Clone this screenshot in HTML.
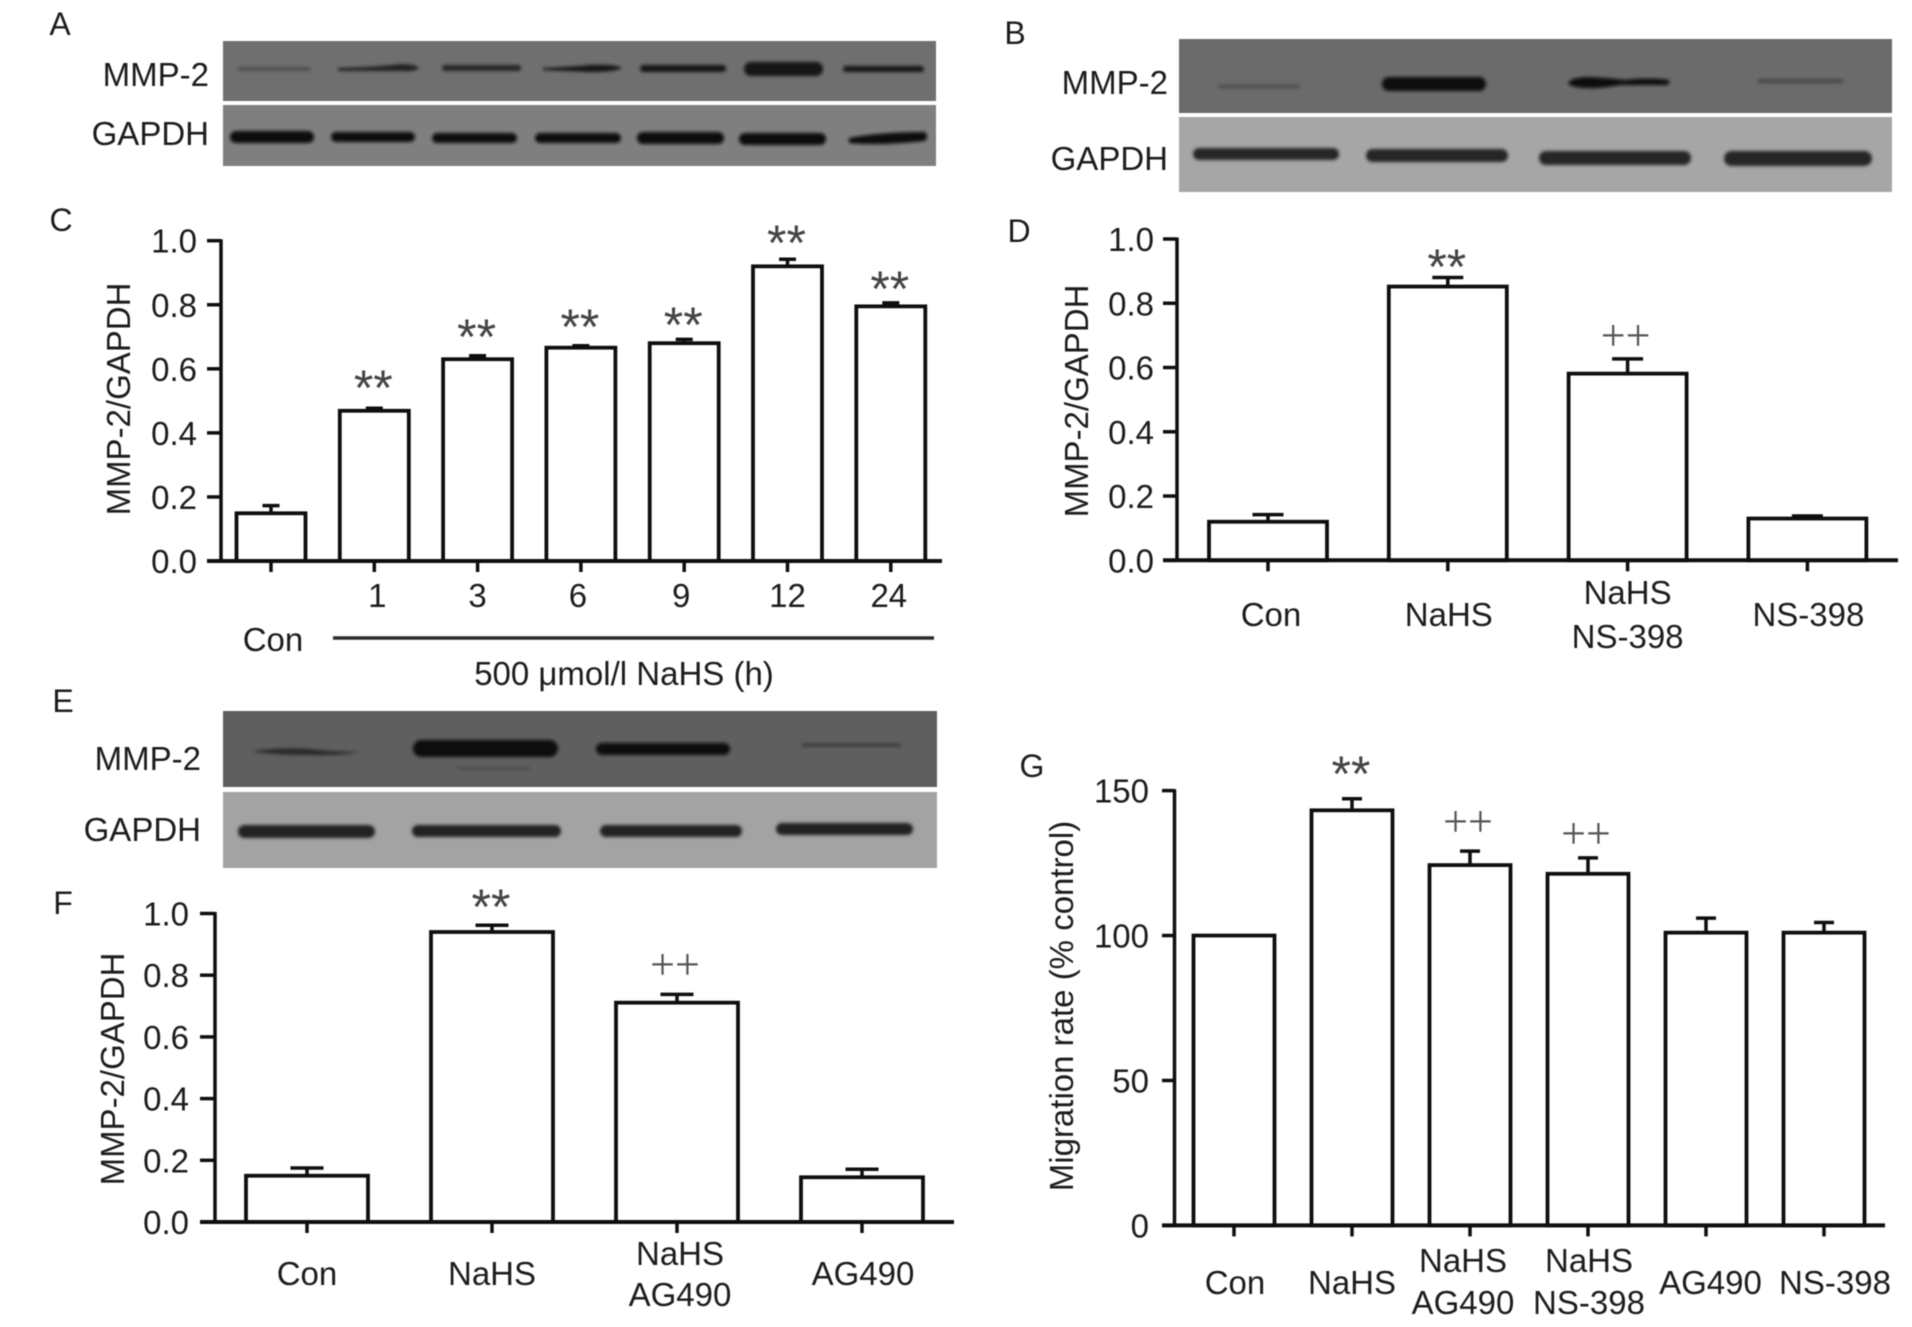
<!DOCTYPE html>
<html lang="en">
<head>
<meta charset="utf-8">
<title>MMP-2 expression and migration rate figure</title>
<style>
  html, body { margin: 0; padding: 0; background: #fff; }
  #figure { display: block; width: 1912px; height: 1327px; filter: blur(0.5px); }
  text { font-family: "Liberation Sans", sans-serif; fill: #1c1c1c; }
</style>
</head>
<body>
<svg id="figure" xmlns="http://www.w3.org/2000/svg" width="1912" height="1327" viewBox="0 0 1912 1327">
  <defs>
    <filter id="soft" x="-20%" y="-100%" width="140%" height="300%"><feGaussianBlur stdDeviation="1.6"/></filter>
  </defs>
  <rect width="1912" height="1327" fill="#fff"/>

  <!-- Panel letters -->
  <g font-size="32" text-anchor="middle">
    <text x="60" y="35">A</text>
    <text x="1015" y="44">B</text>
    <text x="61" y="231">C</text>
    <text x="1019" y="242">D</text>
    <text x="63" y="712">E</text>
    <text x="63" y="914">F</text>
    <text x="1032" y="777">G</text>
  </g>

  <!-- Blot A -->
  <g>
    <rect x="223" y="41" width="713" height="60" fill="#6f6f6f"/>
    <rect x="223" y="105" width="713" height="61" fill="#7f7f7f"/>
    <g filter="url(#soft)" fill="#161616">
      <rect x="238" y="67" width="73" height="4" rx="2" fill="#505050"/>
      <path d="M338 68 Q380 67 400 64 Q415 64 419 68 Q415 72 400 71 Q370 71 338 71 Z" fill="#202020"/>
      <rect x="442" y="65" width="79" height="6" rx="3" fill="#262626"/>
      <path d="M543 68 Q570 67 590 65 Q615 64 622 68 Q615 72 590 72 Q565 71 543 70 Z"/>
      <rect x="640" y="65" width="86" height="7" rx="3.5"/>
      <rect x="744" y="62" width="79" height="14" rx="7"/>
      <rect x="843" y="66" width="81" height="6" rx="3"/>
    </g>
    <g filter="url(#soft)" fill="#111">
      <rect x="230" y="131" width="84" height="12" rx="6"/>
      <rect x="331" y="132" width="84" height="10" rx="5"/>
      <rect x="432" y="133" width="85" height="10" rx="5"/>
      <rect x="535" y="133" width="86" height="10" rx="5"/>
      <rect x="637" y="132" width="87" height="12" rx="6"/>
      <rect x="739" y="133" width="87" height="12" rx="6"/>
      <path d="M849 138 Q880 132 925 132 Q929 137 925 141 Q880 146 849 143 Z"/>
    </g>
  </g>
  <g font-size="33" text-anchor="end">
    <text x="209" y="86">MMP-2</text>
    <text x="209" y="145">GAPDH</text>
  </g>

  <!-- Blot B -->
  <g>
    <rect x="1179" y="39" width="713" height="74" fill="#6b6b6b"/>
    <rect x="1179" y="117" width="713" height="75" fill="#a6a6a6"/>
    <g filter="url(#soft)" fill="#0c0c0c">
      <rect x="1218" y="84" width="82" height="5" rx="2.5" fill="#555"/>
      <rect x="1382" y="77" width="104" height="14" rx="7"/>
      <path d="M1568 83 Q1572 77 1590 77 Q1610 78 1625 80 Q1650 77 1668 80 Q1672 83 1666 85 Q1640 85 1620 85 Q1600 89 1585 88 Q1570 87 1568 83 Z"/>
      <rect x="1758" y="79" width="85" height="4" rx="2" fill="#474747"/>
    </g>
    <g filter="url(#soft)" fill="#262626">
      <rect x="1193" y="148" width="146" height="12" rx="6"/>
      <rect x="1366" y="149" width="142" height="13" rx="6.5"/>
      <rect x="1539" y="151" width="152" height="14" rx="7"/>
      <rect x="1724" y="151" width="148" height="15" rx="7.5"/>
    </g>
  </g>
  <g font-size="33" text-anchor="end">
    <text x="1168" y="94">MMP-2</text>
    <text x="1168" y="170">GAPDH</text>
  </g>

  <!-- Blot E -->
  <g>
    <rect x="223" y="711" width="714" height="76" fill="#5f5f5f"/>
    <rect x="223" y="792" width="714" height="76" fill="#a3a3a3"/>
    <g filter="url(#soft)" fill="#0c0c0c">
      <path d="M252 751 Q290 746 320 750 Q345 752 360 752 Q340 756 310 755 Q270 755 252 751 Z" fill="#2a2a2a"/>
      <rect x="413" y="740" width="145" height="17" rx="8.5"/>
      <rect x="596" y="743" width="134" height="12" rx="6"/>
      <rect x="802" y="743" width="99" height="4" rx="2" fill="#3f3f3f"/>
      <rect x="457" y="767" width="73" height="3" rx="1.5" fill="#4d4d4d"/>
    </g>
    <g filter="url(#soft)" fill="#232323">
      <rect x="238" y="825" width="137" height="13" rx="6.5"/>
      <rect x="412" y="825" width="149" height="12" rx="6"/>
      <rect x="600" y="825" width="142" height="12" rx="6"/>
      <rect x="776" y="823" width="137" height="12" rx="6"/>
    </g>
  </g>
  <g font-size="33" text-anchor="end">
    <text x="201" y="770">MMP-2</text>
    <text x="201" y="841">GAPDH</text>
  </g>

  <!-- Panel C extras -->
  <g>
    <text x="273" y="651" font-size="33" text-anchor="middle">Con</text>
    <line x1="333" y1="638" x2="934" y2="638" stroke="#2c2c2c" stroke-width="3.4"/>
    <text x="624" y="685" font-size="33" text-anchor="middle">500 μmol/l NaHS (h)</text>
  </g>

  <g id="chart-c"></g>
  <g id="chart-d"></g>
  <g id="chart-f"></g>
  <g id="chart-g"></g>
</svg>

<script>
// Panel C data
const cCategories = ["", "1", "3", "6", "9", "12", "24"];
const cValues = [0.149, 0.469, 0.630, 0.666, 0.680, 0.920, 0.795];
const cErrors = [0.024, 0.008, 0.011, 0.006, 0.012, 0.022, 0.011];
const cMarks = ["", "**", "**", "**", "**", "**", "**"];
const cMarkLevels = [0, 0.565, 0.724, 0.755, 0.762, 1.018, 0.874];
const cTicks = [0, 0.2, 0.4, 0.6, 0.8, 1.0];
const cTickLabels = ["0.0", "0.2", "0.4", "0.6", "0.8", "1.0"];

// Panel D data
const dCategories = ["Con", "NaHS", "NaHS|NS-398", "NS-398"];
const dValues = [0.120, 0.852, 0.581, 0.130];
const dErrors = [0.022, 0.028, 0.046, 0.008];
const dMarks = ["", "**", "++", ""];
const dMarkLevels = [0, 0.938, 0.698, 0];
const dTicks = [0, 0.2, 0.4, 0.6, 0.8, 1.0];
const dTickLabels = ["0.0", "0.2", "0.4", "0.6", "0.8", "1.0"];

// Panel F data
const fCategories = ["Con", "NaHS", "NaHS|AG490", "AG490"];
const fValues = [0.150, 0.940, 0.711, 0.145];
const fErrors = [0.025, 0.022, 0.027, 0.026];
const fMarks = ["", "**", "++", ""];
const fMarkLevels = [0, 1.047, 0.833, 0];
const fTicks = [0, 0.2, 0.4, 0.6, 0.8, 1.0];
const fTickLabels = ["0.0", "0.2", "0.4", "0.6", "0.8", "1.0"];

// Panel G data
const gCategories = ["Con", "NaHS", "NaHS|AG490", "NaHS|NS-398", "AG490", "NS-398"];
const gValues = [100, 143.2, 124.3, 121.3, 101, 101];
const gErrors = [0, 4, 4.8, 5.5, 5, 3.5];
const gMarks = ["", "**", "++", "++", "", ""];
const gMarkLevels = [0, 158.5, 139.2, 135, 0, 0];
const gTicks = [0, 50, 100, 150];
const gTickLabels = ["0", "50", "100", "150"];

const SVG_NS = "http://www.w3.org/2000/svg";
const INK = "#0e0e0e";

function drawChart(panel, layout, categories, values, errors, marks, markLevels, ticks, tickLabels) {
  const root = document.getElementById("chart-" + panel);
  const yScale = v => layout.y0 - (v - layout.yMin) / (layout.yMax - layout.yMin) * (layout.y0 - layout.y1);
  const xScale = i => layout.xFirst + i * layout.xStep;

  function line(x1, y1, x2, y2) {
    const el = document.createElementNS(SVG_NS, "line");
    el.setAttribute("x1", x1);
    el.setAttribute("y1", y1);
    el.setAttribute("x2", x2);
    el.setAttribute("y2", y2);
    el.setAttribute("stroke", INK);
    el.setAttribute("stroke-width", 3.5);
    root.appendChild(el);
    return el;
  }
  function label(x, y, str, size, anchor) {
    const el = document.createElementNS(SVG_NS, "text");
    el.setAttribute("x", x);
    el.setAttribute("y", y);
    el.setAttribute("font-size", size);
    el.setAttribute("text-anchor", anchor);
    el.textContent = str;
    root.appendChild(el);
    return el;
  }

  // Bars and error bars
  values.forEach((v, i) => {
    const cx = xScale(i);
    const top = yScale(v);
    const errTop = yScale(v + errors[i]);
    if (errors[i] > 0) {
      const stem = line(cx, top, cx, errTop);
      
      
      const cap = line(cx - layout.capW / 2, errTop, cx + layout.capW / 2, errTop);
      
      
    }
    const bar = document.createElementNS(SVG_NS, "rect");
    bar.setAttribute("x", cx - layout.barW / 2);
    bar.setAttribute("y", top);
    bar.setAttribute("width", layout.barW);
    bar.setAttribute("height", yScale(layout.yMin) - top);
    bar.setAttribute("fill", "#fff");
    bar.setAttribute("stroke", INK);
    bar.setAttribute("stroke-width", 3.8);
    
    
    root.appendChild(bar);

    const tick = line(cx, layout.y0, cx, layout.y0 + 11);
    
    

    // Category label (a "|" splits it on two lines)
    const parts = categories[i].split("|");
    const lx = cx + (layout.labelNudge ? layout.labelNudge[i] : 0);
    if (parts.length === 1 && parts[0] !== "") {
      const t = label(lx, layout.catY + 12, parts[0], 33, "middle");
      
      
    } else if (parts.length === 2) {
      const t1 = label(lx, layout.catY1 + 12, parts[0], 33, "middle");
      
      
      const t2 = label(lx, layout.catY2 + 12, parts[1], 33, "middle");
      
      
    }

    // Significance marks
    if (marks[i] === "**") {
      const m = label(cx - 1, yScale(markLevels[i]) + 25, "**", 50, "middle");
      m.style.fill = "#444";
      
      
    } else if (marks[i] === "++") {
      const m = label(cx - 2, yScale(markLevels[i]) + 14, "++", 44, "middle");
      m.style.fontFamily = '"Liberation Serif", serif';
      m.style.fill = "#555";
      
      
    }
  });

  // Axes
  const yAxis = line(layout.axisX, layout.y1 - 1.5, layout.axisX, layout.y0);
  
  
  const xAxis = line(layout.tickLeft, layout.y0, layout.xEnd, layout.y0);
  xAxis.setAttribute("stroke-width", 4);
  
  

  ticks.forEach((t, i) => {
    const yT = yScale(t);
    const tk = line(layout.tickLeft, yT, layout.axisX, yT);
    
    
    const lb = label(layout.tickLeft - layout.labelGap, yT + 12, tickLabels[i], 33, "end");
    
    
  });

  // Y axis title
  const title = document.createElementNS(SVG_NS, "text");
  title.setAttribute("transform", "translate(" + (layout.titleX + 12) + "," + layout.titleY + ") rotate(-90)");
  title.setAttribute("font-size", 33);
  title.setAttribute("text-anchor", "middle");
  title.textContent = layout.title;
  
  
  root.appendChild(title);
}

drawChart("c", {
  y0: 561, y1: 240.7, yMin: 0, yMax: 1, axisX: 221, tickLeft: 207, xEnd: 942, labelGap: 10,
  xFirst: 271, xStep: 103.3, barW: 69, capW: 17, catY: 595,
  labelNudge: [0, 3, 0, -3, -3, 0, -2],
  titleX: 118, titleY: 399, title: "MMP-2/GAPDH"
}, cCategories, cValues, cErrors, cMarks, cMarkLevels, cTicks, cTickLabels);

drawChart("d", {
  y0: 560.3, y1: 239, yMin: 0, yMax: 1, axisX: 1177, tickLeft: 1163, xEnd: 1898, labelGap: 9,
  xFirst: 1268, xStep: 179.8, barW: 118, capW: 31, catY: 614, catY1: 592, catY2: 636,
  labelNudge: [3, 1, 0, 1],
  titleX: 1076, titleY: 401, title: "MMP-2/GAPDH"
}, dCategories, dValues, dErrors, dMarks, dMarkLevels, dTicks, dTickLabels);

drawChart("f", {
  y0: 1222, y1: 913.5, yMin: 0, yMax: 1, axisX: 215, tickLeft: 200, xEnd: 954, labelGap: 11,
  xFirst: 307, xStep: 185, barW: 122, capW: 33, catY: 1273, catY1: 1253, catY2: 1294,
  labelNudge: [0, 0, 3, 1],
  titleX: 112, titleY: 1069, title: "MMP-2/GAPDH"
}, fCategories, fValues, fErrors, fMarks, fMarkLevels, fTicks, fTickLabels);

drawChart("g", {
  y0: 1225.4, y1: 790.6, yMin: 0, yMax: 150, axisX: 1174.5, tickLeft: 1162, xEnd: 1885, labelGap: 13,
  xFirst: 1234, xStep: 118, barW: 81, capW: 20, catY: 1282, catY1: 1260, catY2: 1302,
  labelNudge: [1, 0, -7, 1, 4.5, 11],
  titleX: 1061, titleY: 1006, title: "Migration rate (% control)"
}, gCategories, gValues, gErrors, gMarks, gMarkLevels, gTicks, gTickLabels);
</script>
</body>
</html>
